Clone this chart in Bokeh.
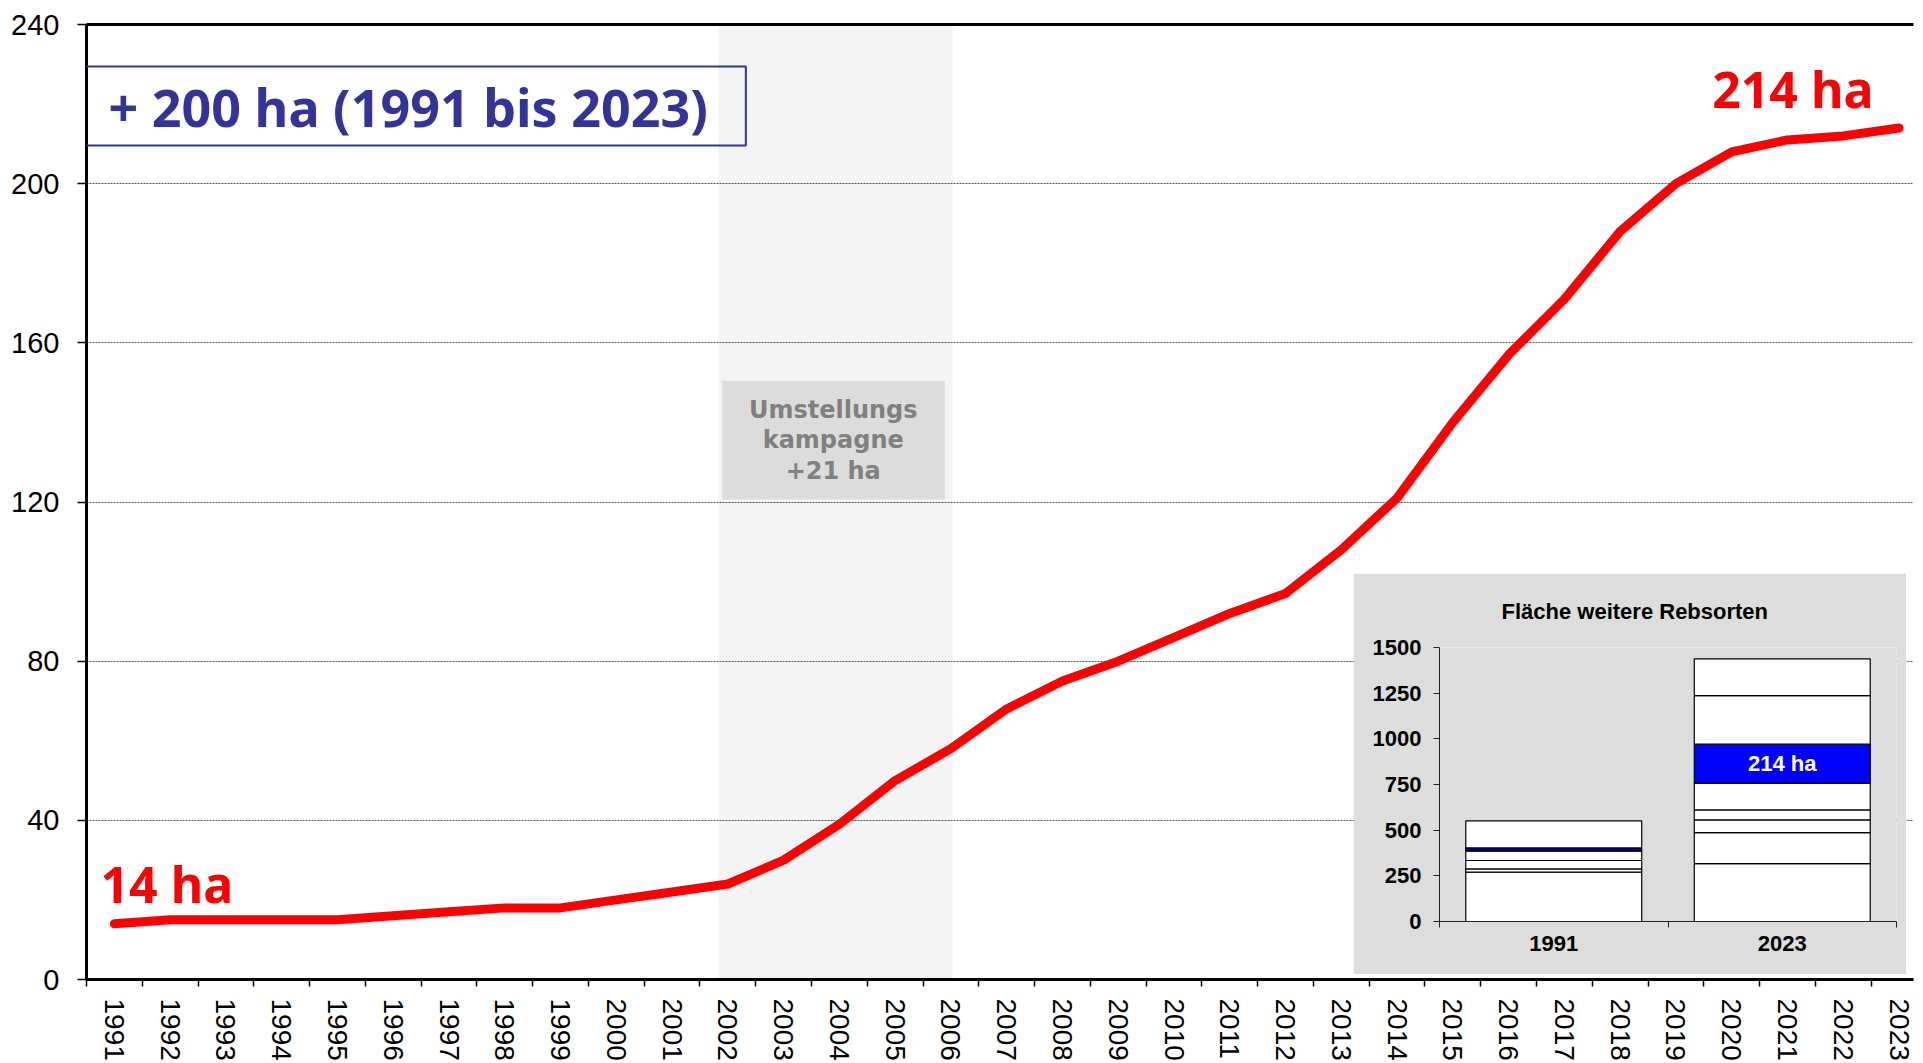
from bokeh.plotting import figure
from bokeh.models import Range1d, FixedTicker, LinearAxis, BoxAnnotation, Label
from bokeh.layouts import column
from bokeh.embed import file_html
from bokeh.resources import INLINE

# ---------------- data ----------------
years = list(range(1991, 2024))
area_ha = [14, 15, 15, 15, 15, 16, 17, 18, 18, 20, 22, 24, 30, 39, 50, 58,
           68, 75, 80, 86, 92, 97, 108, 121, 140, 157, 171, 188, 200, 208,
           211, 212, 214]
y_ticks = [0, 40, 80, 120, 160, 200, 240]
grid_ticks = [40, 80, 120, 160, 200]

title_text = "+ 200 ha (1991 bis 2023)"
start_label = "14 ha"
end_label = "214 ha"
campaign_text = "Umstellungs\nkampagne\n+21 ha"

inset_title = "Fläche weitere Rebsorten"
inset_cats = ["1991", "2023"]
inset_ticks = [0, 250, 500, 750, 1000, 1250, 1500]
# stacked segment areas (ha) per bar, bottom to top; index of the blue segment
seg_1991 = [270, 18, 46, 51, 4, 14, 148]
seg_2023 = [317, 170, 69, 55, 146, 214, 265, 202]
blue_index = 5
inset_blue_label = "214 ha"

FONT = "Liberation Sans"
TFONT = "Noto Sans"

n = len(years)
centers = [i + 0.5 for i in range(n)]
bounds = list(range(n + 1))

# ---------------- main figure ----------------
p = figure(width=1923, height=1063, x_range=Range1d(0, 32.76), y_range=Range1d(0, 240),
           output_backend="svg", toolbar_location=None,
           min_border_left=86, min_border_right=0, min_border_top=24, min_border_bottom=84,
           outline_line_color=None, background_fill_color="white", border_fill_color="white")

# shaded campaign period
p.add_layout(BoxAnnotation(left=11.33, right=15.53, fill_color="#F4F4F4", fill_alpha=1,
                           line_color=None, level="image"))
p.add_layout(BoxAnnotation(left=11.40, right=15.39, bottom=120.6, top=150.5,
                           fill_color="#DCDCDC", fill_alpha=1, line_color=None, level="underlay"))

p.xgrid.visible = False
p.ygrid.ticker = FixedTicker(ticks=grid_ticks)
p.ygrid.grid_line_color = "#555555"
p.ygrid.grid_line_dash = "2 1"
p.ygrid.grid_line_width = 1

xa = p.xaxis[0]
xa.ticker = FixedTicker(ticks=centers, minor_ticks=bounds)
xa.major_label_overrides = {c: str(y) for c, y in zip(centers, years)}
xa.major_label_orientation = "vertical"
xa.major_tick_line_color = None
xa.major_tick_out = 7
xa.major_tick_in = 0
xa.minor_tick_out = 7
xa.minor_tick_in = 0
xa.minor_tick_line_color = "black"
xa.minor_tick_line_width = 1.5
xa.axis_line_width = 3
xa.axis_line_color = "black"
xa.major_label_text_font = FONT
xa.major_label_text_font_size = "28px"
xa.major_label_text_color = "black"
xa.major_label_standoff = 12

ya = p.yaxis[0]
ya.ticker = FixedTicker(ticks=y_ticks)
ya.minor_tick_line_color = None
ya.major_tick_out = 9
ya.major_tick_in = 0
ya.major_tick_line_width = 1.5
ya.axis_line_width = 3
ya.axis_line_color = "black"
ya.major_label_text_font = FONT
ya.major_label_text_font_size = "29px"
ya.major_label_text_color = "black"
ya.major_label_standoff = 18

top_axis = LinearAxis(ticker=FixedTicker(ticks=[]), axis_line_width=3, axis_line_color="black",
                      major_label_text_font_size="0px", major_tick_line_color=None,
                      minor_tick_line_color=None)
p.add_layout(top_axis, "above")

p.line(x=centers, y=area_ha, line_color="#FF0000", line_width=9,
       line_cap="round", line_join="round")

p.add_layout(Label(x=-0.303, y=219.5, text=title_text, text_font=TFONT, text_font_size="52px",
                   text_font_style="bold", text_color="#333399", text_align="left",
                   text_baseline="middle", border_line_color="#333399", border_line_width=2,
                   padding=dict(left=39, right=38, top=4, bottom=4)))
p.add_layout(Label(x=0.25, y=23.9, text=start_label, text_font=TFONT, text_font_size="50px",
                   text_font_style="bold", text_color="#FF0000", text_baseline="alphabetic"))
p.add_layout(Label(x=29.15, y=223.7, text=end_label, text_font=TFONT, text_font_size="50px",
                   text_font_style="bold", text_color="#FF0000", text_baseline="alphabetic"))
p.add_layout(Label(x=13.39, y=135.5, text=campaign_text, text_font="DejaVu Sans",
                   text_font_size="24px", text_font_style="bold", text_color="#808080",
                   text_align="center", text_baseline="middle", text_line_height=1.1))

# ---------------- inset figure ----------------
ins = figure(width=553, height=401, x_range=Range1d(0, 2), y_range=Range1d(0, 1500),
             output_backend="svg", toolbar_location=None,
             min_border_left=73, min_border_right=10, min_border_top=72, min_border_bottom=53,
             outline_line_color=None, background_fill_color="#DDDDDD",
             border_fill_color="#DDDDDD")
ins.grid.visible = False
ins.title.text = inset_title
ins.title.align = "left"
ins.title.offset = 62
ins.title.standoff = 47
ins.title.text_font = FONT
ins.title.text_font_size = "22px"
ins.title.text_font_style = "bold"
ins.title.text_color = "black"

for xi, segs in zip([0.5, 1.5], [seg_1991, seg_2023]):
    bottoms, tops = [], []
    acc = 0
    for s in segs:
        bottoms.append(acc)
        acc += s
        tops.append(acc)
    colors = ["#0000FF" if i == blue_index else "white" for i in range(len(segs))]
    ins.vbar(x=[xi] * len(segs), width=0.77, bottom=bottoms, top=tops,
             fill_color=colors, line_color="black", line_width=1.2)
    if xi == 1.5:
        mid = (bottoms[blue_index] + tops[blue_index]) / 2
        ins.add_layout(Label(x=xi, y=mid, text=inset_blue_label, text_font=FONT,
                             text_font_size="22px", text_font_style="bold", text_color="white",
                             text_align="center", text_baseline="middle"))

ixa = ins.xaxis[0]
ixa.ticker = FixedTicker(ticks=[0.5, 1.5], minor_ticks=[0, 1, 2])
ixa.major_label_overrides = {0.5: inset_cats[0], 1.5: inset_cats[1]}
ixa.major_tick_line_color = None
ixa.major_tick_out = 6
ixa.minor_tick_out = 6
ixa.minor_tick_in = 0
ixa.minor_tick_line_color = "#222222"
ixa.axis_line_color = "#222222"
ixa.major_label_text_font = FONT
ixa.major_label_text_font_size = "22px"
ixa.major_label_text_font_style = "bold"
ixa.major_label_text_color = "black"
ixa.major_label_standoff = 8

iya = ins.yaxis[0]
iya.ticker = FixedTicker(ticks=inset_ticks)
iya.minor_tick_line_color = None
iya.major_tick_out = 6
iya.major_tick_in = 0
iya.major_tick_line_color = "#222222"
iya.axis_line_color = "#222222"
iya.major_label_text_font = FONT
iya.major_label_text_font_size = "22px"
iya.major_label_text_font_style = "bold"
iya.major_label_text_color = "black"
iya.major_label_standoff = 12

ins.styles = {"position": "absolute", "left": "1353px", "top": "573px"}
layout = column(p, ins, styles={"position": "relative"})

open("out.html", "w").write(file_html(layout, INLINE))
